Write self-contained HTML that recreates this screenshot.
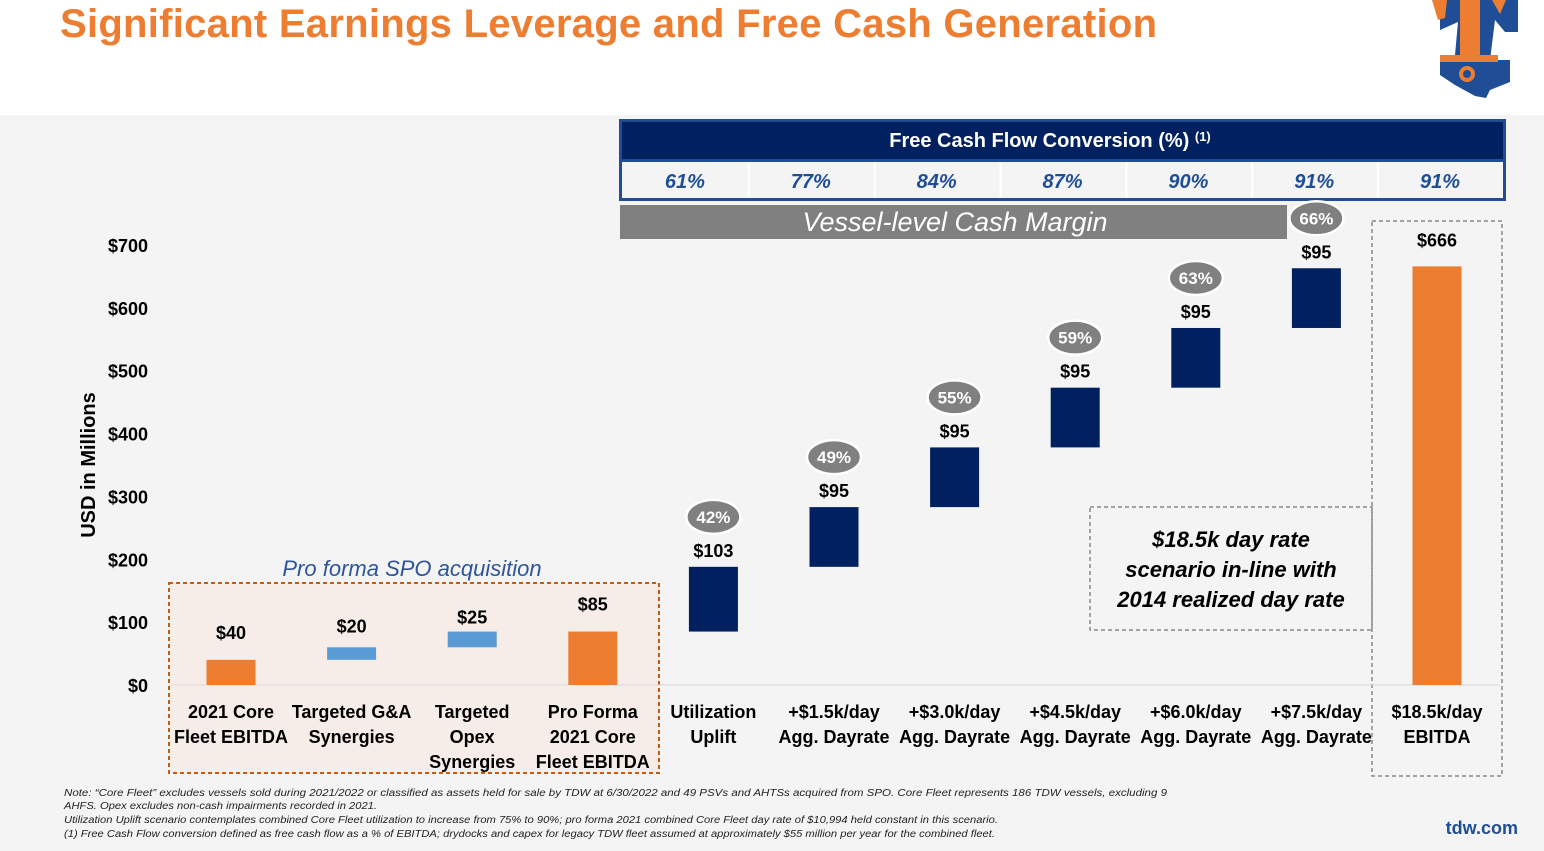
<!DOCTYPE html>
<html><head><meta charset="utf-8"><style>
body{margin:0;width:1544px;height:851px;overflow:hidden;background:#fff;font-family:"Liberation Sans",sans-serif}
svg{display:block}
</style></head><body>
<svg id="chart" width="1544" height="851" xmlns="http://www.w3.org/2000/svg">
<rect x="0" y="115" width="1544" height="736" fill="#f4f4f4"/>
<text x="60" y="37" font-size="40" font-weight="bold" fill="#ed7d31" textLength="1097">Significant Earnings Leverage and Free Cash Generation</text>
<g>
<path d="M1440,0 L1518,0 L1518,32 L1505,32 L1495,20 L1490,60 L1510,60 L1510,82 L1490,90 L1486,98 L1475,96 L1455,85 L1440,75 L1440,55 L1455,55 L1458,22 L1440,30 Z" fill="#1f4e96"/>
<path d="M1432,0 L1447,0 L1445,18 L1438,20 Z M1460,0 L1480,0 L1480,55 L1498,55 L1498,62 L1440,62 L1440,55 L1460,55 Z M1492,0 L1506,0 L1500,14 Z" fill="#ed7d31"/>
<circle cx="1467" cy="74" r="6" fill="none" stroke="#ed7d31" stroke-width="4"/>
</g>
<rect x="169" y="583" width="490" height="190" fill="#f6ece8" stroke="#c55a11" stroke-width="2" stroke-dasharray="4,3"/>
<text x="412" y="576" font-size="22" font-style="italic" fill="#2f5597" text-anchor="middle">Pro forma SPO acquisition</text>
<rect x="1090" y="507" width="282" height="123" fill="none" stroke="#888" stroke-width="1.5" stroke-dasharray="4,3"/>
<g font-size="22" font-weight="bold" font-style="italic" fill="#000" text-anchor="middle">
<text x="1231" y="547">$18.5k day rate</text><text x="1231" y="577">scenario in-line with</text><text x="1231" y="607">2014 realized day rate</text></g>
<rect x="1372" y="221" width="130" height="555" fill="none" stroke="#888" stroke-width="1.5" stroke-dasharray="4,3"/>
<g>
<rect x="619" y="119" width="887" height="82" fill="#1f4e96"/>
<rect x="622" y="122" width="881" height="37" fill="#002060"/>
<rect x="622" y="162" width="881" height="36" fill="#fff"/>
<text x="1050" y="147" font-size="20" font-weight="bold" fill="#fff" text-anchor="middle">Free Cash Flow Conversion (%) <tspan font-size="13" dy="-6">(1)</tspan></text>
<g id="fcfcells"></g>
</g>
<rect x="620" y="205" width="667" height="34" fill="#808080"/>
<text x="955" y="231" font-size="27" font-style="italic" fill="#fff" text-anchor="middle">Vessel-level Cash Margin</text>
<text transform="translate(95,465) rotate(-90)" font-size="20" font-weight="bold" text-anchor="middle">USD in Millions</text>
<line x1="170" y1="685" x2="1500" y2="685" stroke="#d9d9d9" stroke-width="1"/>
<g id="plot"></g>
<g font-size="10" font-style="italic" fill="#222">
<text x="64" y="796" textLength="1103" lengthAdjust="spacingAndGlyphs">Note: “Core Fleet” excludes vessels sold during 2021/2022 or classified as assets held for sale by TDW at 6/30/2022 and 49 PSVs and AHTSs acquired from SPO. Core Fleet represents 186 TDW vessels, excluding 9</text>
<text x="64" y="809" textLength="313" lengthAdjust="spacingAndGlyphs">AHFS. Opex excludes non-cash impairments recorded in 2021.</text>
<text x="64" y="823" textLength="934" lengthAdjust="spacingAndGlyphs">Utilization Uplift scenario contemplates combined Core Fleet utilization to increase from 75% to 90%; pro forma 2021 combined Core Fleet day rate of $10,994 held constant in this scenario.</text>
<text x="64" y="837" textLength="931" lengthAdjust="spacingAndGlyphs">(1) Free Cash Flow conversion defined as free cash flow as a % of EBITDA; drydocks and capex for legacy TDW fleet assumed at approximately $55 million per year for the combined fleet.</text>
</g>
<text x="1518" y="834" font-size="18" font-weight="bold" fill="#1f4e96" text-anchor="end">tdw.com</text>
</svg>
<script>
const categories=[["2021 Core","Fleet EBITDA"],["Targeted G&A","Synergies"],["Targeted","Opex","Synergies"],["Pro Forma","2021 Core","Fleet EBITDA"],["Utilization","Uplift"],["+$1.5k/day","Agg. Dayrate"],["+$3.0k/day","Agg. Dayrate"],["+$4.5k/day","Agg. Dayrate"],["+$6.0k/day","Agg. Dayrate"],["+$7.5k/day","Agg. Dayrate"],["$18.5k/day","EBITDA"]];
const values=[40,20,25,85,103,95,95,95,95,95,666];
const barKinds=["total","step","step","total","step","step","step","step","step","step","total"];
const valueLabels=["$40","$20","$25","$85","$103","$95","$95","$95","$95","$95","$666"];
const marginPct=[null,null,null,null,"42%","49%","55%","59%","63%","66%",null];
const fcfPct=["61%","77%","84%","87%","90%","91%","91%"];
const yTicks=[0,100,200,300,400,500,600,700];
const NS="http://www.w3.org/2000/svg";
const y=v=>685-v*(440/700);
const x=i=>231+i*120.6;
const labelGap=[21,15,8,21,10,10,10,10,10,10,20];
const plot=document.getElementById('plot');
function mk(t,a,txt){const e=document.createElementNS(NS,t);for(const k in a)e.setAttribute(k,a[k]);if(txt!=null)e.textContent=txt;plot.appendChild(e);return e;}
yTicks.forEach(v=>{const t=mk('text',{x:148,y:y(v)+7,'font-size':18,'font-weight':'bold','text-anchor':'end'},'$'+v);

});
let run=0;
values.forEach((v,i)=>{let b0,b1,col;
if(barKinds[i]==='total'){b0=0;b1=v;run=v;col=(i===0||i===3||i===10)?'#ed7d31':'#002060';}
else{b0=run;b1=run+v;run=b1;col=i<3?'#5b9bd5':'#002060';}
const r=mk('rect',{x:x(i)-24.5,y:y(b1),width:49,height:y(b0)-y(b1),fill:col});


const lt=mk('text',{x:x(i),y:y(b1)-labelGap[i],'font-size':18,'font-weight':'bold','text-anchor':'middle'},valueLabels[i]);


if(marginPct[i]){const cy=y(b1)-50;
const el=mk('ellipse',{cx:x(i),cy:cy,rx:27,ry:17,fill:'#808080',stroke:'#fff','stroke-width':2.5});


const pt=mk('text',{x:x(i),y:cy+6,'font-size':17,'font-weight':'bold',fill:'#fff','text-anchor':'middle'},marginPct[i]);

}
categories[i].forEach((ln,j)=>{const ct=mk('text',{x:x(i),y:718+j*25,'font-size':18,'font-weight':'bold','text-anchor':'middle'},ln);

});
});
const fc=document.getElementById('fcfcells');
fcfPct.forEach((p,i)=>{const w=881/7,cx=622+i*w;
const r=document.createElementNS(NS,'rect');r.setAttribute('x',cx+(i?2:0));r.setAttribute('y',162);r.setAttribute('width',w-(i?2:0));r.setAttribute('height',36);r.setAttribute('fill','#f4f4f4');fc.appendChild(r);


const t=document.createElementNS(NS,'text');t.setAttribute('x',cx+w/2);t.setAttribute('y',188);t.setAttribute('font-size',20);t.setAttribute('font-weight','bold');t.setAttribute('font-style','italic');t.setAttribute('fill','#1f4e96');t.setAttribute('text-anchor','middle');t.textContent=p;fc.appendChild(t);

});
</script>
</body></html>
